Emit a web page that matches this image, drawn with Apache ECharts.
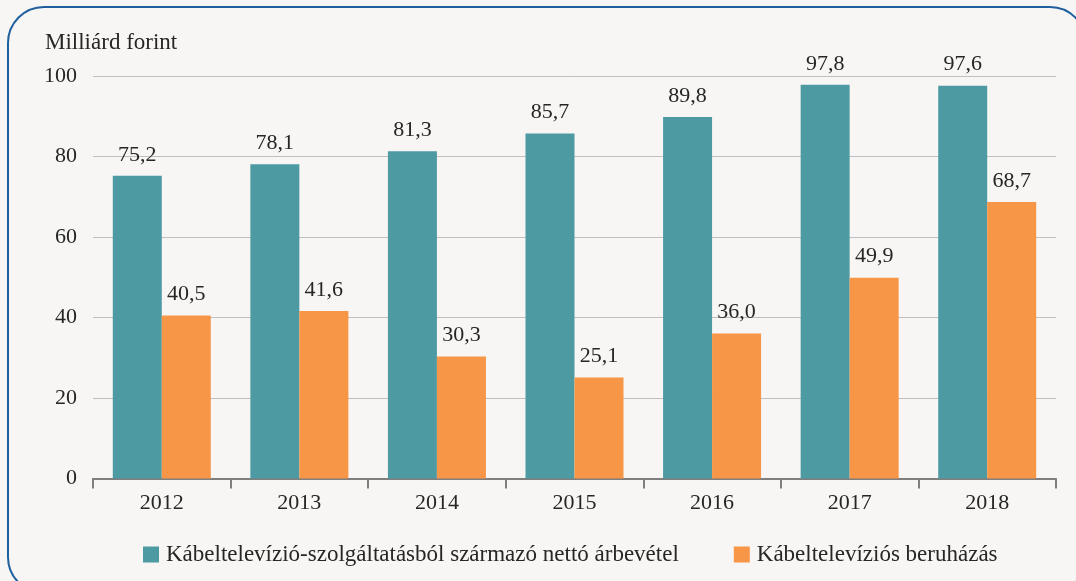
<!DOCTYPE html>
<html>
<head>
<meta charset="utf-8">
<script src="https://cdn.jsdelivr.net/npm/echarts@6/dist/echarts.min.js"></script>
<style>
html,body{margin:0;padding:0;background:#f7f6f4;}
#c{width:1076px;height:581px;}
</style>
</head>
<body>
<div id="c"></div>
<script>
const categories = ['2012','2013','2014','2015','2016','2017','2018'];
const revenue = [75.2, 78.1, 81.3, 85.7, 89.8, 97.8, 97.6];
const investment = [40.5, 41.6, 30.3, 25.1, 36.0, 49.9, 68.7];
const seriesNames = ['Kábeltelevízió-szolgáltatásból származó nettó árbevétel', 'Kábeltelevíziós beruházás'];
const unitLabel = 'Milliárd forint';

const FONT = '"Liberation Serif", "DejaVu Serif", serif';
const fmt = p => p.value.toFixed(1).replace('.', ',');
const chart = echarts.init(document.getElementById('c'));
chart.setOption({
  backgroundColor: '#f7f6f4',
  animation: false,
  textStyle: { fontFamily: FONT },
  graphic: [
    { type: 'rect', shape: { x: 8, y: 7, width: 1078, height: 586, r: 36 },
      style: { fill: 'none', stroke: '#1f5f9e', lineWidth: 2 } },
    { type: 'text', left: 45, top: 31,
      style: { text: unitLabel, font: '23px ' + FONT, fill: '#262626' } }
  ],
  legend: {
    left: 138, top: 538,
    itemWidth: 16, itemHeight: 16, itemGap: 55,
    icon: 'rect',
    textStyle: { fontFamily: FONT, fontSize: 23, color: '#262626', padding: [0, 0, 0, 2] },
    data: seriesNames
  },
  grid: { left: 93, right: 20, top: 76, bottom: 102.5 },
  xAxis: {
    type: 'category', data: categories,
    axisLine: { lineStyle: { color: '#7f7f7f', width: 2 } },
    axisTick: { show: true, length: 10, lineStyle: { color: '#7f7f7f', width: 2 } },
    axisLabel: { fontFamily: FONT, fontSize: 22, color: '#262626', margin: 14 }
  },
  yAxis: {
    type: 'value', min: 0, max: 100, interval: 20,
    axisLine: { show: false }, axisTick: { show: false },
    splitLine: { lineStyle: { color: '#bfbfbf', width: 1 } },
    axisLabel: { fontFamily: FONT, fontSize: 22, color: '#262626', margin: 16 }
  },
  series: [
    { name: seriesNames[0], type: 'bar', data: revenue, barWidth: 49, barGap: '0%',
      itemStyle: { color: '#4e9aa3' },
      label: { show: true, position: 'top', distance: 10, formatter: fmt,
        fontFamily: FONT, fontSize: 22, color: '#262626' } },
    { name: seriesNames[1], type: 'bar', data: investment, barWidth: 49, barGap: '0%',
      itemStyle: { color: '#f79646' },
      label: { show: true, position: 'top', distance: 10, formatter: fmt,
        fontFamily: FONT, fontSize: 22, color: '#262626' } }
  ]
});
</script>
</body>
</html>
